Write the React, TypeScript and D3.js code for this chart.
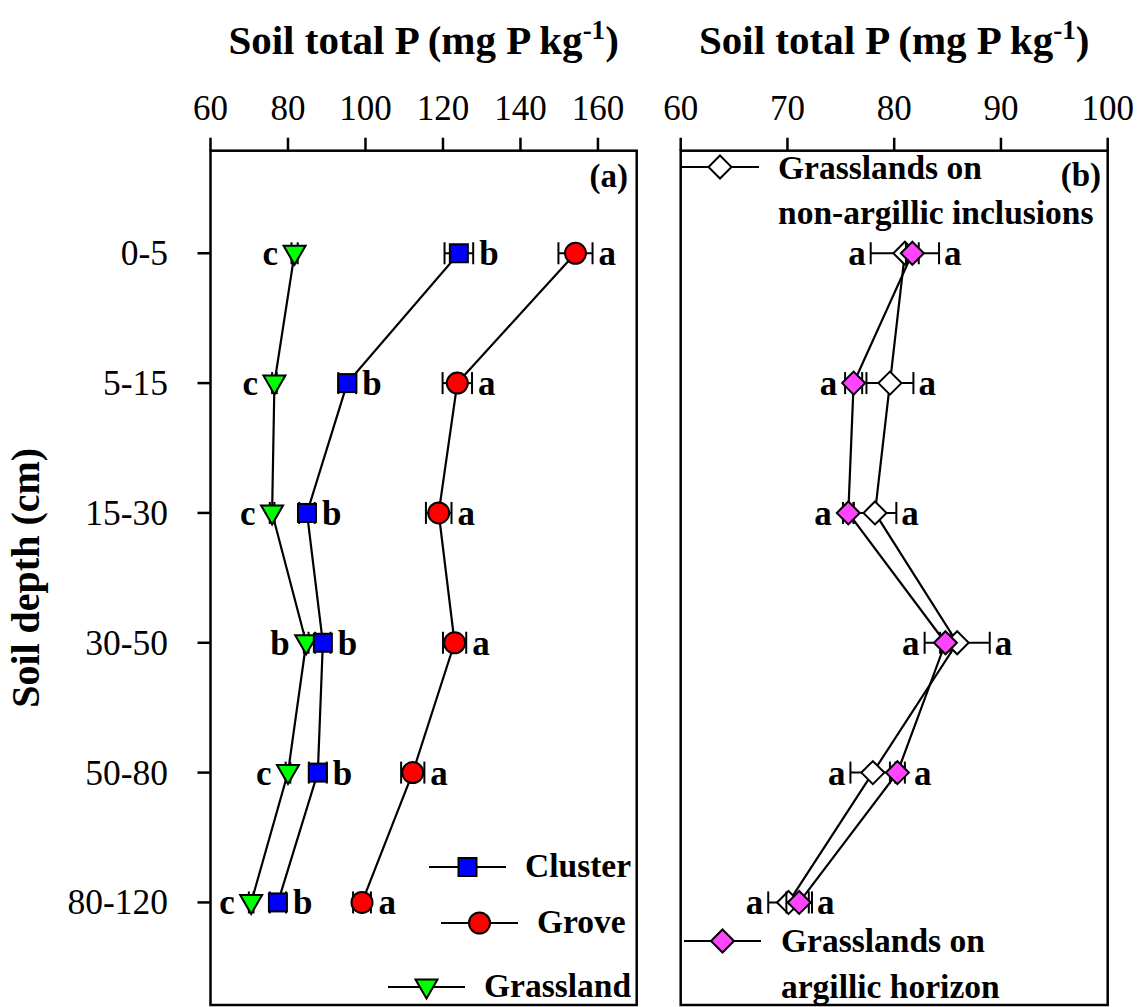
import React from "react";
import * as d3 from "d3";

// ---------- data ----------
const depths = ["0-5", "5-15", "15-30", "30-50", "50-80", "80-120"];

const clusterMean = [124.1, 95.3, 84.9, 89.0, 87.7, 77.4];
const clusterErr = [3.7, 2.3, 2.0, 2.0, 2.3, 2.1];
const clusterLetters = ["b", "b", "b", "b", "b", "b"];

const groveMean = [154.2, 123.7, 118.9, 123.0, 112.2, 99.1];
const groveErr = [4.4, 3.8, 3.3, 3.0, 3.0, 2.3];
const groveLetters = ["a", "a", "a", "a", "a", "a"];

const grassMean = [81.7, 76.5, 75.9, 84.7, 80.0, 70.5];
const grassErr = [0.8, 0.6, 0.6, 0.6, 0.6, 0.6];
const grassLetters = ["c", "c", "c", "b", "c", "c"];

const nonArgMean = [81.0, 79.6, 78.2, 85.9, 78.0, 70.1];
const nonArgErr = [3.2, 2.2, 2.0, 3.05, 2.1, 1.9];
const argMean = [81.7, 76.2, 75.7, 84.8, 80.3, 71.1];
const argErr = [0.6, 0.8, 0.5, 0.5, 0.7, 1.2];
const panelBLettersLeft = ["a", "a", "a", "a", "a", "a"];
const panelBLettersRight = ["a", "a", "a", "a", "a", "a"];

const ticksA = [60, 80, 100, 120, 140, 160];
const ticksB = [60, 70, 80, 90, 100];

// ---------- layout ----------
const W = 1144;
const H = 1007;
const TOP = 150.7;
const BOTTOM = 1005;
const A_LEFT = 210.5;
const A_RIGHT = 636.7;
const B_LEFT = 680.7;
const B_RIGHT = 1107.7;
const FONT = "'Liberation Serif', 'Times New Roman', Times, serif";

const y = d3.scalePoint<string>().domain(depths).range([TOP, BOTTOM]).padding(0.79);
const xA = d3.scaleLinear().domain([60, 170]).range([A_LEFT, A_RIGHT]);
const xB = d3.scaleLinear().domain([60, 100]).range([B_LEFT, B_RIGHT]);

type Shape = "square" | "circle" | "tri" | "diamond";

function Marker({ shape, cx, cy, fill }: { shape: Shape; cx: number; cy: number; fill: string }) {
  const sw = 2;
  if (shape === "square")
    return <rect x={cx - 9} y={cy - 9} width={18} height={18} fill={fill} stroke="#000" strokeWidth={sw} />;
  if (shape === "circle") return <circle cx={cx} cy={cy} r={10.5} fill={fill} stroke="#000" strokeWidth={sw} />;
  if (shape === "tri")
    return (
      <path
        d={`M${cx - 11},${cy - 7.5} L${cx + 11},${cy - 7.5} L${cx},${cy + 11.5} Z`}
        fill={fill}
        stroke="#000"
        strokeWidth={sw}
      />
    );
  return (
    <path
      d={`M${cx},${cy - 11.5} L${cx + 11.5},${cy} L${cx},${cy + 11.5} L${cx - 11.5},${cy} Z`}
      fill={fill}
      stroke="#000"
      strokeWidth={sw}
    />
  );
}

function markerHalf(shape: Shape) {
  return shape === "square" ? 9 : shape === "circle" ? 10.5 : 11.5;
}

type Series = {
  mean: number[];
  err: number[];
  shape: Shape;
  fill: string;
};

function SeriesLine({ s, x }: { s: Series; x: d3.ScaleLinear<number, number> }) {
  const line = d3
    .line<number>()
    .x((d) => x(d))
    .y((_, i) => y(depths[i]) as number);
  return <path d={line(s.mean) || ""} fill="none" stroke="#000" strokeWidth={2.2} />;
}

function SeriesPoints({ s, x }: { s: Series; x: d3.ScaleLinear<number, number> }) {
  return (
    <g>
      {s.mean.map((m, i) => {
        const cy = y(depths[i]) as number;
        const lo = x(m - s.err[i]);
        const hi = x(m + s.err[i]);
        return (
          <g key={i}>
            <line x1={lo} x2={hi} y1={cy} y2={cy} stroke="#000" strokeWidth={2} />
            <line x1={lo} x2={lo} y1={cy - 11} y2={cy + 11} stroke="#000" strokeWidth={2} />
            <line x1={hi} x2={hi} y1={cy - 11} y2={cy + 11} stroke="#000" strokeWidth={2} />
            <Marker shape={s.shape} cx={x(m)} cy={cy} fill={s.fill} />
          </g>
        );
      })}
    </g>
  );
}

function Letters({
  s,
  x,
  letters,
  side,
}: {
  s: Series;
  x: d3.ScaleLinear<number, number>;
  letters: string[];
  side: "left" | "right";
}) {
  const h = markerHalf(s.shape);
  return (
    <g>
      {s.mean.map((m, i) => {
        const cy = (y(depths[i]) as number) + 12;
        const cx = x(m);
        if (side === "right") {
          const px = Math.max(x(m + s.err[i]), cx + h) + 6;
          return (
            <text key={i} x={px} y={cy} textAnchor="start" fontWeight="bold" fontSize={35}>
              {letters[i]}
            </text>
          );
        }
        const px = Math.min(x(m - s.err[i]), cx - h) - 5;
        return (
          <text key={i} x={px} y={cy} textAnchor="end" fontWeight="bold" fontSize={35}>
            {letters[i]}
          </text>
        );
      })}
    </g>
  );
}

function TopAxis({ x, ticks, left, right }: { x: d3.ScaleLinear<number, number>; ticks: number[]; left: number; right: number }) {
  return (
    <g>
      {ticks.map((t) => (
        <g key={t}>
          <line x1={x(t)} x2={x(t)} y1={TOP} y2={TOP - 13} stroke="#000" strokeWidth={2.5} />
          <text x={x(t)} y={120} textAnchor="middle" fontSize={35}>
            {t}
          </text>
        </g>
      ))}
      <text x={(left + right) / 2} y={54} textAnchor="middle" fontWeight="bold" fontSize={41}>
        Soil total P (mg P kg
        <tspan dy={-15} fontSize={27}>
          -1
        </tspan>
        <tspan dy={15}>)</tspan>
      </text>
    </g>
  );
}

function LegendRow({
  shape,
  fill,
  x1,
  x2,
  cy,
  tx,
  lines,
}: {
  shape: Shape;
  fill: string;
  x1: number;
  x2: number;
  cy: number;
  tx: number;
  lines: { text: string; y: number }[];
}) {
  return (
    <g>
      <line x1={x1} x2={x2} y1={cy} y2={cy} stroke="#000" strokeWidth={2} />
      <Marker shape={shape} cx={(x1 + x2) / 2} cy={cy} fill={fill} />
      {lines.map((l, i) => (
        <text key={i} x={tx} y={l.y} fontWeight="bold" fontSize={33.5}>
          {l.text}
        </text>
      ))}
    </g>
  );
}

export default function App() {
  const cluster: Series = { mean: clusterMean, err: clusterErr, shape: "square", fill: "#0000ff" };
  const grove: Series = { mean: groveMean, err: groveErr, shape: "circle", fill: "#ff0000" };
  const grass: Series = { mean: grassMean, err: grassErr, shape: "tri", fill: "#00ff00" };
  const nonArg: Series = { mean: nonArgMean, err: nonArgErr, shape: "diamond", fill: "#ffffff" };
  const arg: Series = { mean: argMean, err: argErr, shape: "diamond", fill: "#ff44ff" };

  return (
    <svg
      width={W}
      height={H}
      style={{ position: "absolute", left: 0, top: 0, background: "#fff" }}
      fontFamily={FONT}
    >
      <rect x={0} y={0} width={W} height={H} fill="#fff" />

      {/* Panel (a) */}
      <TopAxis x={xA} ticks={ticksA} left={A_LEFT} right={A_RIGHT} />
      {depths.map((d) => (
        <g key={d}>
          <line x1={A_LEFT} x2={A_LEFT - 13} y1={y(d)} y2={y(d)} stroke="#000" strokeWidth={2.5} />
          <text x={168} y={(y(d) as number) + 12} textAnchor="end" fontSize={35.5}>
            {d}
          </text>
        </g>
      ))}
      <text
        transform={`translate(39,${(TOP + BOTTOM) / 2}) rotate(-90)`}
        textAnchor="middle"
        fontWeight="bold"
        fontSize={40}
      >
        Soil depth (cm)
      </text>

      <SeriesLine s={grass} x={xA} />
      <SeriesLine s={cluster} x={xA} />
      <SeriesLine s={grove} x={xA} />
      <SeriesPoints s={grass} x={xA} />
      <SeriesPoints s={cluster} x={xA} />
      <SeriesPoints s={grove} x={xA} />
      <Letters s={grass} x={xA} letters={grassLetters} side="left" />
      <Letters s={cluster} x={xA} letters={clusterLetters} side="right" />
      <Letters s={grove} x={xA} letters={groveLetters} side="right" />
      <text x={628} y={187} textAnchor="end" fontWeight="bold" fontSize={33}>
        (a)
      </text>

      <LegendRow shape="square" fill="#0000ff" x1={429} x2={506} cy={867} tx={525} lines={[{ text: "Cluster", y: 877 }]} />
      <LegendRow shape="circle" fill="#ff0000" x1={441} x2={518} cy={923} tx={537} lines={[{ text: "Grove", y: 933 }]} />
      <LegendRow shape="tri" fill="#00ff00" x1={388} x2={465} cy={987} tx={484} lines={[{ text: "Grassland", y: 997 }]} />

      <rect x={A_LEFT} y={TOP} width={A_RIGHT - A_LEFT} height={BOTTOM - TOP} fill="none" stroke="#000" strokeWidth={2.5} />

      {/* Panel (b) */}
      <TopAxis x={xB} ticks={ticksB} left={B_LEFT} right={B_RIGHT} />
      <SeriesLine s={nonArg} x={xB} />
      <SeriesLine s={arg} x={xB} />
      <SeriesPoints s={nonArg} x={xB} />
      <SeriesPoints s={arg} x={xB} />
      <g>
        {depths.map((d, i) => {
          const cy = (y(d) as number) + 12;
          const lo = Math.min(
            xB(nonArgMean[i] - nonArgErr[i]),
            xB(nonArgMean[i]) - 11.5,
            xB(argMean[i] - argErr[i]),
            xB(argMean[i]) - 11.5
          );
          const hi = Math.max(
            xB(nonArgMean[i] + nonArgErr[i]),
            xB(nonArgMean[i]) + 11.5,
            xB(argMean[i] + argErr[i]),
            xB(argMean[i]) + 11.5
          );
          return (
            <g key={d}>
              <text x={lo - 5} y={cy} textAnchor="end" fontWeight="bold" fontSize={35}>
                {panelBLettersLeft[i]}
              </text>
              <text x={hi + 5} y={cy} textAnchor="start" fontWeight="bold" fontSize={35}>
                {panelBLettersRight[i]}
              </text>
            </g>
          );
        })}
      </g>
      <text x={1101} y={186} textAnchor="end" fontWeight="bold" fontSize={33}>
        (b)
      </text>
      <LegendRow
        shape="diamond"
        fill="#ffffff"
        x1={681}
        x2={759}
        cy={167}
        tx={778}
        lines={[
          { text: "Grasslands on", y: 179 },
          { text: "non-argillic inclusions", y: 224 },
        ]}
      />
      <LegendRow
        shape="diamond"
        fill="#ff44ff"
        x1={684}
        x2={761}
        cy={941}
        tx={781}
        lines={[
          { text: "Grasslands on", y: 952 },
          { text: "argillic horizon", y: 998 },
        ]}
      />
      <rect x={B_LEFT} y={TOP} width={B_RIGHT - B_LEFT} height={BOTTOM - TOP} fill="none" stroke="#000" strokeWidth={2.5} />
    </svg>
  );
}
